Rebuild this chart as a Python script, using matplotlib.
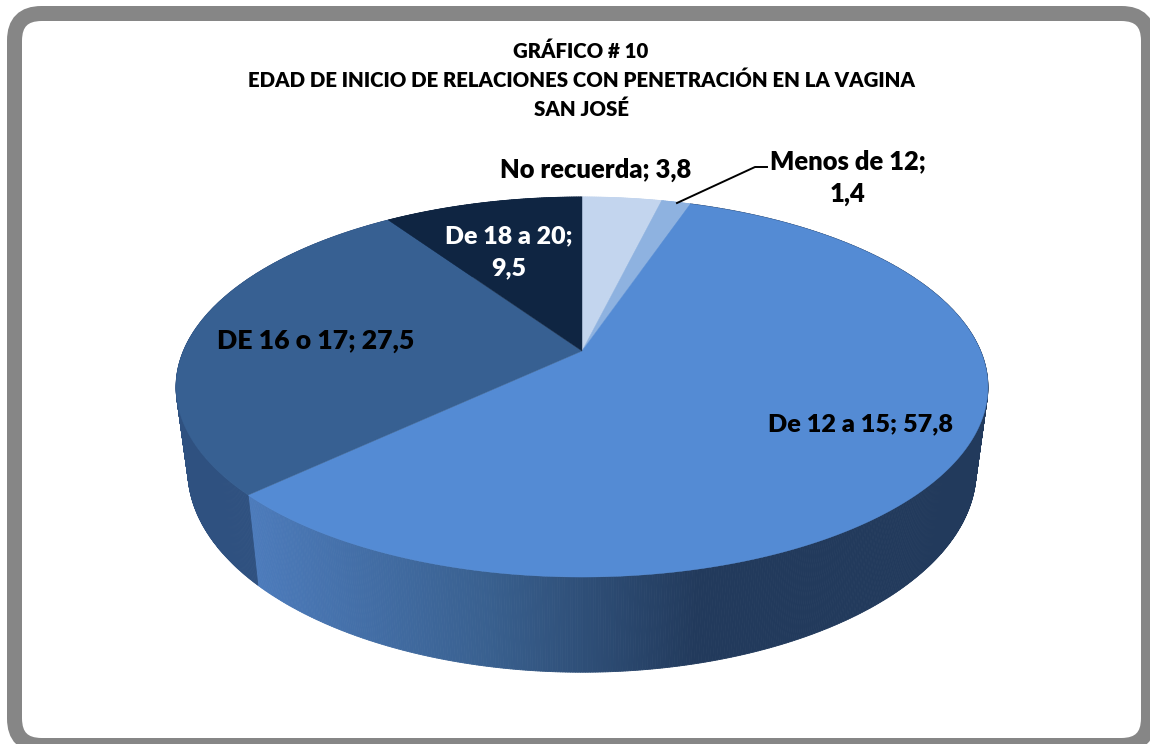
import numpy as np
import matplotlib
matplotlib.use("Agg")
import matplotlib.pyplot as plt
from matplotlib.patches import FancyBboxPatch, Polygon
from matplotlib.collections import PolyCollection
from matplotlib.colors import LinearSegmentedColormap

#data, clockwise from 12 o'clock
categories = ["No recuerda", "Menos de 12", "De 12 a 15", "DE 16 o 17", "De 18 a 20"]
values = [3.8, 1.4, 57.8, 27.5, 9.5]
value_labels = ["3,8", "1,4", "57,8", "27,5", "9,5"]
colors = ["#c3d5ee", "#8eb2e0", "#548bd4", "#376092", "#0f2542"]
side_colors = ["#c3d5ee", "#8eb2e0", "#223a5c", "#2f5180", "#0f2542"]
title = "GRÁFICO # 10\nEDAD DE INICIO DE RELACIONES CON PENETRACIÓN EN LA VAGINA\nSAN JOSÉ"

plt.rcParams['font.family'] = ['Lato', 'DejaVu Sans']

#pie perspective, all in pixels
cx = 582
k = 0.1895
top_rim = (351, 398.6, 183.2)
low_rim = (432, 387.0, 194.7)


def rim(theta, cy, a, b):
    # theta clockwise from top, far side of the disc is smaller
    u = np.sin(theta)
    v = np.cos(theta)
    w = 1 + k * v
    return cx + a * u / w, cy - b * v / w


fig = plt.figure(figsize=(11.5, 7.44), dpi=100)
ax = fig.add_axes([0, 0, 1, 1])
ax.set_xlim(0, 1150)
ax.set_ylim(744, 0)
ax.axis('off')

# grey rounded frame
ax.add_patch(FancyBboxPatch((14.5, 13.5), 1134, 732, boxstyle="round,pad=0,rounding_size=27",
                            fc="white", ec="#868686", lw=10.8, zorder=1))

side_cmap = LinearSegmentedColormap.from_list(
    "side", [(0, "#4c7bbb"), (0.45, "#39608f"), (0.85, "#223a5c"), (1, "#223a5c")])

edges = np.cumsum([0] + values) / 100 * 2 * np.pi

# sides first
for i in range(len(values)):
    th = np.linspace(edges[i], edges[i + 1], max(3, int(values[i] * 12)))
    x1, y1 = rim(th, *top_rim)
    x2, y2 = rim(th, *low_rim)
    quads = []
    cols = []
    for j in range(len(th) - 1):
        quads.append([(x1[j], y1[j]), (x1[j + 1], y1[j + 1]), (x2[j + 1], y2[j + 1]), (x2[j], y2[j])])
        if categories[i] == "De 12 a 15":
            cols.append(side_cmap(np.clip((x1[j] - 250) / 530, 0, 1)))
        else:
            cols.append(side_colors[i])
    ax.add_collection(PolyCollection(quads, facecolors=cols, edgecolors="face", linewidths=0.6, zorder=2))

# top of the pie
for i in range(len(values)):
    th = np.linspace(edges[i], edges[i + 1], max(3, int(values[i] * 12)))
    x1, y1 = rim(th, *top_rim)
    pts = [(cx, top_rim[0])] + list(zip(x1, y1))
    ax.add_patch(Polygon(pts, closed=True, fc=colors[i], ec=colors[i], lw=0.3, zorder=3))

ax.text(581, 80, title, ha="center", va="center", fontsize=14.65, fontweight="heavy",
        linespacing=1.57, color="black", zorder=5)

# labels
label_kw = dict(ha="center", va="center", fontweight="heavy", zorder=5)
ax.text(596, 170, categories[0] + "; " + value_labels[0], color="black", fontsize=18.4, **label_kw)
ax.text(848, 177.5, categories[1] + ";\n" + value_labels[1], color="black", fontsize=18.4, linespacing=1.45, **label_kw)
ax.text(860, 424, categories[2] + "; " + value_labels[2], color="black", fontsize=18.2, **label_kw)
ax.text(316, 341, categories[3] + "; " + value_labels[3], color="black", fontsize=19.2, **label_kw)
ax.text(509, 252.5, categories[4] + ";\n" + value_labels[4], color="white", fontsize=18, linespacing=1.55, **label_kw)

# leader line for the thin slice
ax.plot([677, 755, 767], [203, 167, 167], color="black", lw=1.4, zorder=4)

fig.savefig("out.png", dpi=100)
